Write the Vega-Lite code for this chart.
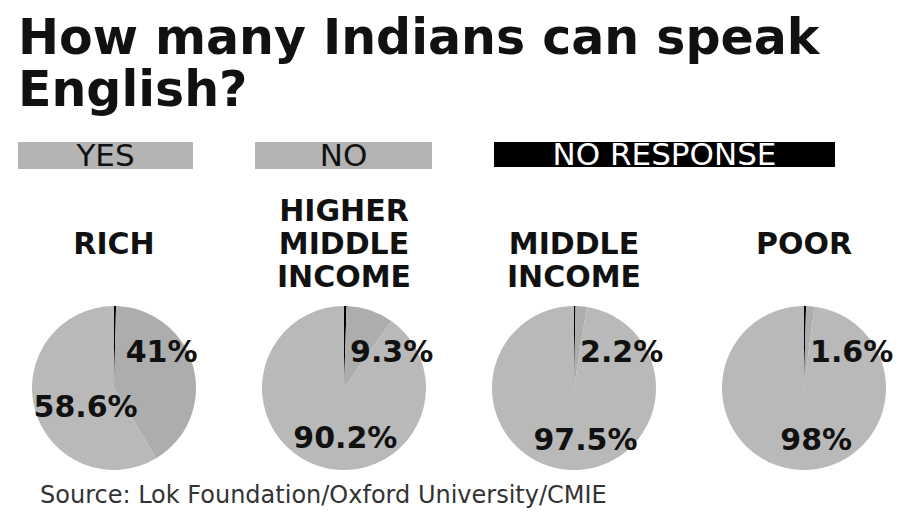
{
  "$schema": "https://vega.github.io/schema/vega-lite/v6.json",
  "background": "white",
  "padding": {"left": 18, "top": 14, "right": 0, "bottom": 0},
  "title": {
    "text": ["How many Indians can speak", "English?"],
    "anchor": "start",
    "font": "DejaVu Sans",
    "fontSize": 49,
    "fontWeight": "bold",
    "color": "#111111",
    "lineHeight": 52,
    "offset": 24
  },
  "config": {"view": {"stroke": null}},
  "vconcat": [
    {
      "spacing": 62,
      "hconcat": [
        {
          "width": 175, "height": 27,
          "data": {"values": [{"kind": "YES"}]},
          "encoding": {
            "x": {"field": "kind", "type": "nominal", "axis": null, "scale": {"paddingInner": 0, "paddingOuter": 0}},
            "y": {"field": "kind", "type": "nominal", "axis": null, "scale": {"paddingInner": 0, "paddingOuter": 0}}
          },
          "layer": [
            {"mark": {"type": "rect", "color": "#b4b4b4"}},
            {"mark": {"type": "text", "font": "DejaVu Sans", "fontSize": 31, "color": "#111111", "baseline": "middle", "dy": 1}, "encoding": {"text": {"field": "kind"}}}
          ]
        },
        {
          "width": 177, "height": 27,
          "data": {"values": [{"kind": "NO"}]},
          "encoding": {
            "x": {"field": "kind", "type": "nominal", "axis": null, "scale": {"paddingInner": 0, "paddingOuter": 0}},
            "y": {"field": "kind", "type": "nominal", "axis": null, "scale": {"paddingInner": 0, "paddingOuter": 0}}
          },
          "layer": [
            {"mark": {"type": "rect", "color": "#b4b4b4"}},
            {"mark": {"type": "text", "font": "DejaVu Sans", "fontSize": 31, "color": "#111111", "baseline": "middle", "dy": 1}, "encoding": {"text": {"field": "kind"}}}
          ]
        },
        {
          "width": 341, "height": 25,
          "data": {"values": [{"kind": "NO RESPONSE"}]},
          "encoding": {
            "x": {"field": "kind", "type": "nominal", "axis": null, "scale": {"paddingInner": 0, "paddingOuter": 0}},
            "y": {"field": "kind", "type": "nominal", "axis": null, "scale": {"paddingInner": 0, "paddingOuter": 0}}
          },
          "layer": [
            {"mark": {"type": "rect", "color": "#000000"}},
            {"mark": {"type": "text", "font": "DejaVu Sans", "fontSize": 31, "color": "#ffffff", "baseline": "middle", "dy": 1}, "encoding": {"text": {"field": "kind"}}}
          ]
        }
      ]
    },
    {
      "data": {
        "values": [
          {"group": "RICH", "kind": "NO RESPONSE", "value": 0.4, "order": 1, "label": ""},
          {"group": "RICH", "kind": "YES", "value": 41, "order": 2, "label": "41%"},
          {"group": "RICH", "kind": "NO", "value": 58.6, "order": 3, "label": "58.6%"},
          {"group": "HIGHER MIDDLE INCOME", "kind": "NO RESPONSE", "value": 0.5, "order": 1, "label": ""},
          {"group": "HIGHER MIDDLE INCOME", "kind": "YES", "value": 9.3, "order": 2, "label": "9.3%"},
          {"group": "HIGHER MIDDLE INCOME", "kind": "NO", "value": 90.2, "order": 3, "label": "90.2%"},
          {"group": "MIDDLE INCOME", "kind": "NO RESPONSE", "value": 0.3, "order": 1, "label": ""},
          {"group": "MIDDLE INCOME", "kind": "YES", "value": 2.2, "order": 2, "label": "2.2%"},
          {"group": "MIDDLE INCOME", "kind": "NO", "value": 97.5, "order": 3, "label": "97.5%"},
          {"group": "POOR", "kind": "NO RESPONSE", "value": 0.4, "order": 1, "label": ""},
          {"group": "POOR", "kind": "YES", "value": 1.6, "order": 2, "label": "1.6%"},
          {"group": "POOR", "kind": "NO", "value": 98, "order": 3, "label": "98%"}
        ]
      },
      "title": {
        "text": "Source: Lok Foundation/Oxford University/CMIE",
        "orient": "bottom",
        "anchor": "start",
        "font": "DejaVu Sans",
        "fontSize": 24,
        "fontWeight": "normal",
        "color": "#333333",
        "dx": 22,
        "offset": 11
      },
      "spacing": 38,
      "facet": {
        "column": {
          "field": "group",
          "type": "nominal",
          "sort": ["RICH", "HIGHER MIDDLE INCOME", "MIDDLE INCOME", "POOR"],
          "header": {
            "title": null,
            "labelExpr": "length(split(datum.value, ' ')) == 1 ? [datum.value, ''] : split(datum.value, ' ')",
            "labelFont": "DejaVu Sans",
            "labelFontSize": 30,
            "labelFontWeight": "bold",
            "labelColor": "#111111",
            "labelLineHeight": 33,
            "labelBaseline": "middle",
            "labelPadding": -5
          }
        }
      },
      "spec": {
        "width": 192,
        "height": 170,
        "layer": [
          {
            "mark": {"type": "arc", "outerRadius": 82},
            "encoding": {
              "theta": {"field": "value", "type": "quantitative", "stack": true},
              "order": {"field": "order", "type": "quantitative"},
              "color": {
                "field": "kind",
                "type": "nominal",
                "scale": {"domain": ["YES", "NO", "NO RESPONSE"], "range": ["#adadad", "#b9b9b9", "#000000"]},
                "legend": null
              }
            }
          },
          {
            "transform": [{"filter": "datum.kind === 'YES'"}],
            "mark": {"type": "text", "theta": 0.94, "radius": 59, "font": "DejaVu Sans", "fontSize": 30, "fontWeight": "bold", "color": "#111111", "baseline": "middle"},
            "encoding": {"text": {"field": "label"}}
          },
          {
            "mark": {"type": "text", "radius": 45, "dx": 15, "dy": 8, "font": "DejaVu Sans", "fontSize": 30, "fontWeight": "bold", "color": "#111111", "baseline": "middle"},
            "encoding": {
              "theta": {"field": "value", "type": "quantitative", "stack": true},
              "order": {"field": "order", "type": "quantitative"},
              "text": {"condition": {"test": "datum.kind === 'NO'", "field": "label"}, "value": ""}
            }
          }
        ]
      }
    }
  ],
  "spacing": 25
}
